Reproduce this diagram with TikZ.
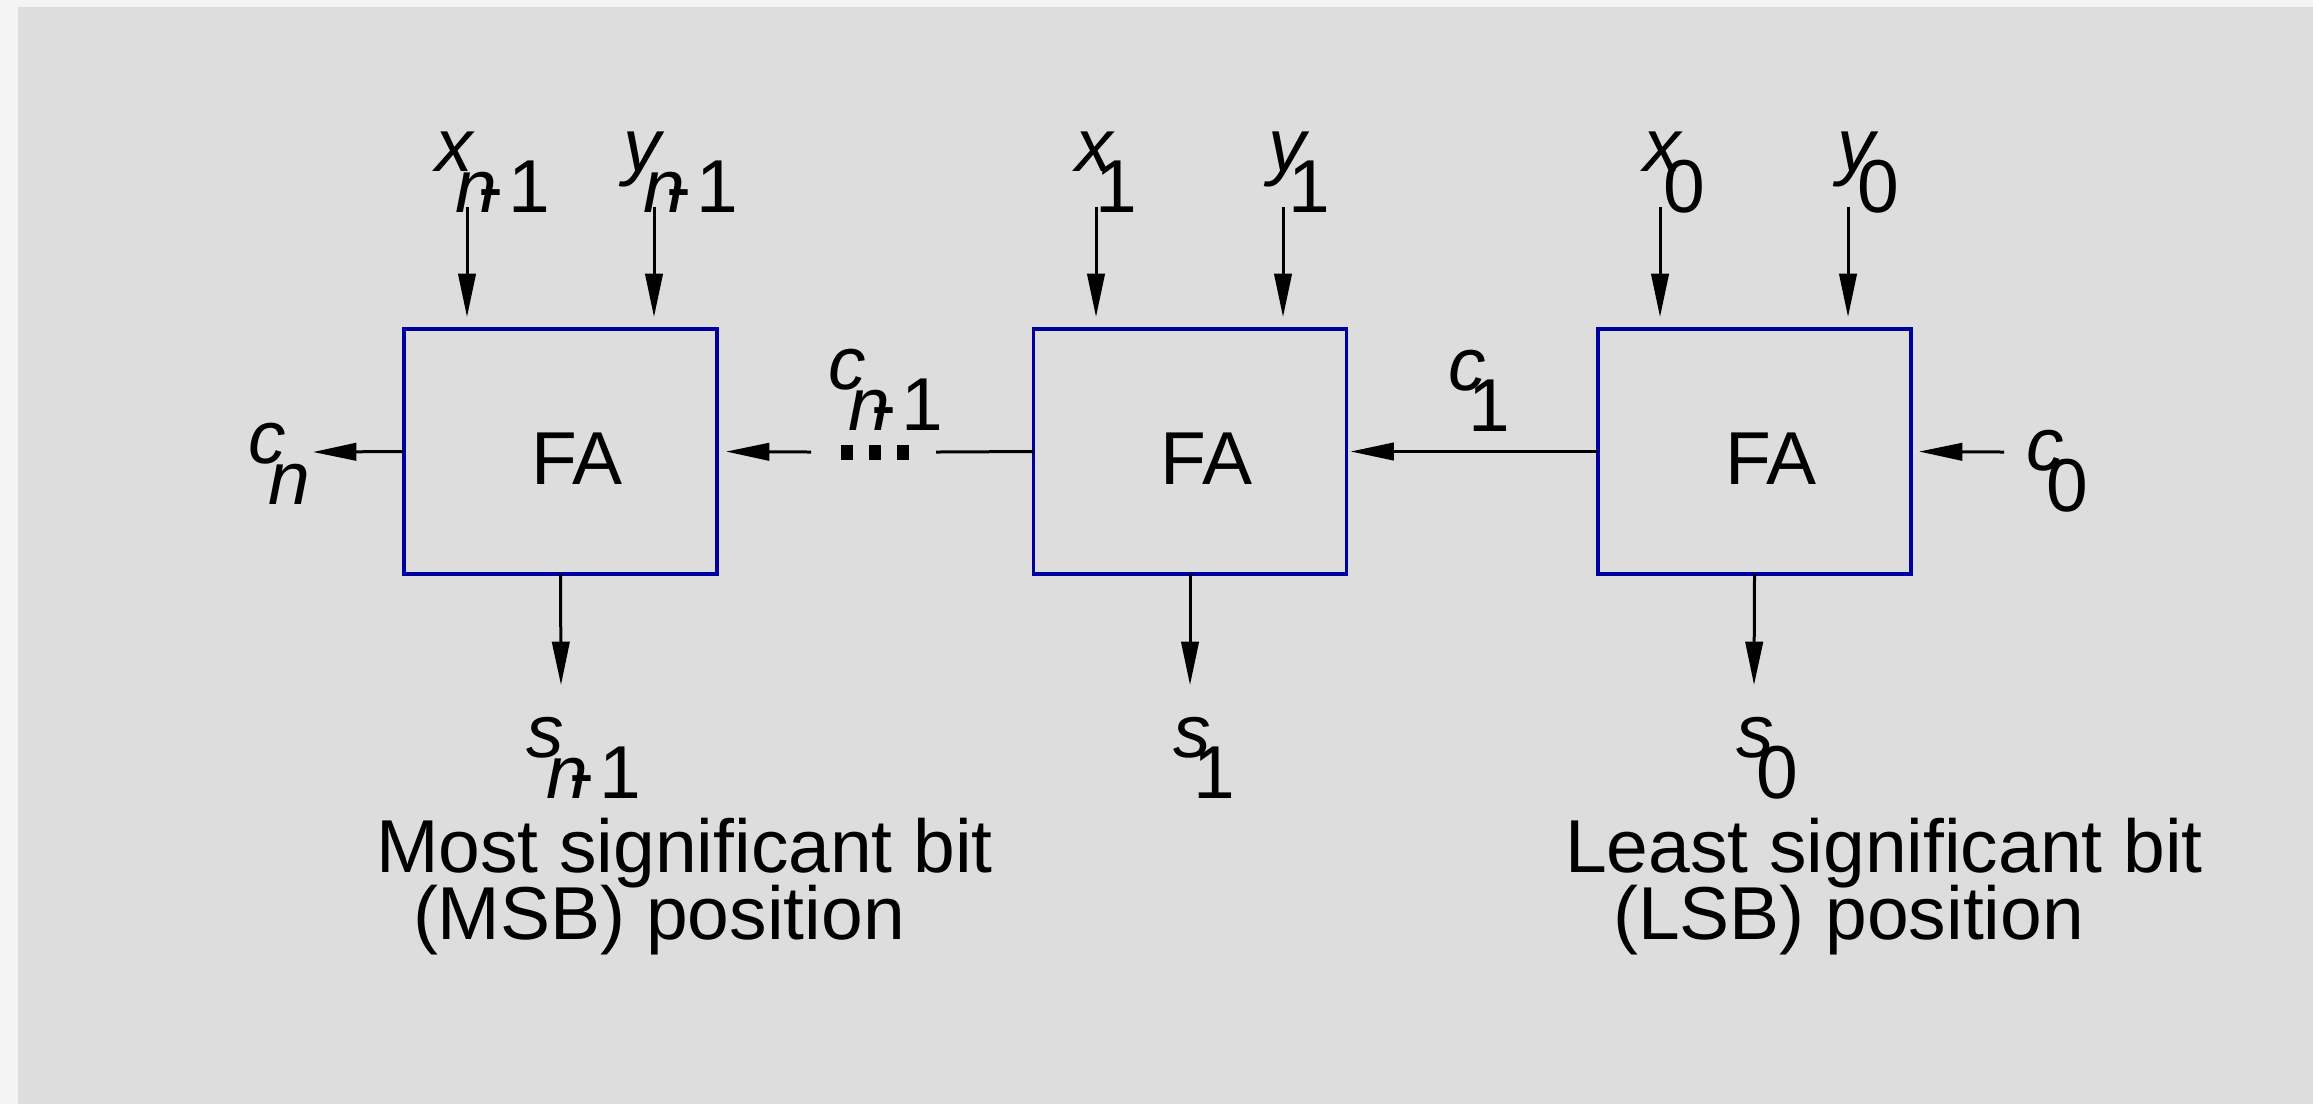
\documentclass[tikz,border=0pt]{standalone}
\usepackage{fontspec}
\setmainfont{Liberation Sans}
\usetikzlibrary{arrows.meta}

\definecolor{pagebg}{HTML}{F4F4F4}
\definecolor{panelbg}{HTML}{DDDDDD}
\definecolor{faedge}{RGB}{0,0,160}

% letter with a lowered, full-size index
\newcommand\sublabel[2]{{\itshape #1}\kern-0.23em\raisebox{-0.55em}{#2}}
% the index n-1
\newcommand\nmone{{\itshape n}\kern-0.25em-\kern0.07em 1}

\begin{document}
\begin{tikzpicture}[x=0.3pt,y=-0.3pt,
  every node/.style={font=\fontsize{22.5pt}{27pt}\selectfont, inner sep=0pt, outer sep=0pt},
  fabox/.style={draw=faedge, line width=1pt, minimum width=93.9pt, minimum height=73.5pt,
                text height=20pt, text depth=0pt},
  lbl/.style={anchor=base west},
  wire/.style={line width=0.9pt},
  arr/.style={wire, -{Triangle[length=13pt,width=5.2pt]}},
  dots/.style={line width=4.5pt, dash pattern=on 3.6pt off 4.8pt}]

% page and panel
\useasboundingbox (0,0) rectangle (2313,1104);
\fill[pagebg] (0,0) rectangle (2313,1104);
\fill[panelbg] (18,7) rectangle (2313,1104);

% full adders
\node[fabox] (fa1) at (560.5,451.5) {\kern9.9pt FA};
\node[fabox] (fa2) at (1190,451.5) {\kern9.9pt FA};
\node[fabox] (fa3) at (1754.5,451.5) {\kern9.9pt FA};

% operand bits
\node[lbl] (xn1) at (435,171) {\sublabel{x}{\nmone}};
\node[lbl] (yn1) at (623,171) {\sublabel{y}{\nmone}};
\node[lbl] (x1)  at (1075,171) {\sublabel{x}{1}};
\node[lbl] (y1)  at (1268,171) {\sublabel{y}{1}};
\node[lbl] (x0)  at (1643,171) {\sublabel{x}{0}};
\node[lbl] (y0)  at (1837,171) {\sublabel{y}{0}};

\coordinate (xn1s) at (467,207);
\coordinate (yn1s) at (654,207);
\coordinate (x1s)  at (1096,207);
\coordinate (y1s)  at (1283,207);
\coordinate (x0s)  at (1660,207);
\coordinate (y0s)  at (1848,207);
\foreach \p/\b in {xn1s/fa1, yn1s/fa1, x1s/fa2, y1s/fa2, x0s/fa3, y0s/fa3}
  \draw[arr, shorten >=3.6pt] (\p) -- (\p |- \b.north);

% carries
\node[lbl] (cn)  at (248,463) {\sublabel{c}{\itshape n}};
\node[lbl] (cn1) at (828,389) {\sublabel{c}{\nmone}};
\node[lbl] (c1)  at (1448,390) {\sublabel{c}{1}};
\node[lbl] (c0)  at (2026,470) {\sublabel{c}{0}};

\coordinate (cnt) at (313,452);
\coordinate (cdA) at (811,452);
\coordinate (cdB) at (936,452);
\coordinate (dA) at (841,452);
\coordinate (dB) at (909,452);
\coordinate (c0s) at (2004,452);

\draw[arr] (fa1.west) -- (cnt);
\draw[arr, shorten >=2.7pt] (cdA) -- (fa1.east);
\draw[dots] (dA) -- (dB);
\draw[wire] (fa2.west) -- (cdB);
\draw[arr, shorten >=1.2pt] (fa3.west) -- (fa2.east);
\draw[arr, shorten >=2.4pt] (c0s) -- (fa3.east);

% sum bits
\coordinate (sn1t) at (561,685);
\coordinate (s1t)  at (1190,685);
\coordinate (s0t)  at (1754,685);
\draw[arr] (fa1.south) -- (sn1t);
\draw[arr] (fa2.south) -- (s1t);
\draw[arr] (fa3.south) -- (s0t);

\node[lbl] (sn1) at (526,757) {\sublabel{s}{\nmone}};
\node[lbl] (s1)  at (1173,757) {\sublabel{s}{1}};
\node[lbl] (s0)  at (1736,757) {\sublabel{s}{0}};

% bit position notes
\node[lbl] (msb1) at (376,872) {Most significant bit};
\node[lbl] (msb2) at (413,939) {(MSB) position};
\node[lbl] (lsb1) at (1565,872) {Least significant bit};
\node[lbl] (lsb2) at (1613,939) {(LSB) position};
\end{tikzpicture}
\end{document}
